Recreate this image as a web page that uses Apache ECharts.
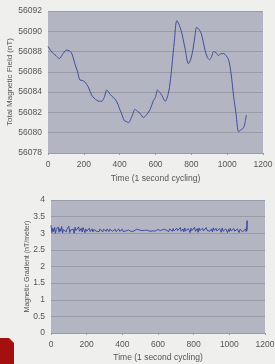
<!DOCTYPE html>
<html>
<head>
<meta charset="utf-8">
<script src="https://cdn.jsdelivr.net/npm/echarts@6/dist/echarts.min.js"></script>
<style>
  html, body { margin: 0; padding: 0; background: #efefed; }
  #chart { width: 275px; height: 364px; }
</style>
</head>
<body>
<div id="chart"></div>
<script>
// 上图: 总磁场 (时间, nT)
const fieldTime = [0, 15, 30, 45, 63, 80, 104, 130, 150, 165, 178, 192, 206, 225, 244, 258, 272, 286, 300, 314, 328, 342, 356, 375, 390, 403, 415, 425, 437, 449, 468, 486, 500, 514, 533, 551, 570, 589, 600, 611, 623, 635, 654, 672, 682, 691, 705, 719, 733, 747, 765, 784, 796, 808, 820, 830, 842, 855, 866, 877, 890, 902, 913, 924, 938, 952, 966, 980, 994, 1008, 1022, 1036, 1050, 1064, 1078, 1092, 1100, 1107]
const fieldValue = [56088.5, 56088.1, 56087.8, 56087.6, 56087.3, 56087.7, 56088.15, 56087.9, 56086.8, 56086.0, 56085.2, 56085.15, 56085.0, 56084.5, 56083.7, 56083.4, 56083.2, 56083.1, 56083.1, 56083.5, 56084.2, 56083.9, 56083.6, 56083.3, 56082.8, 56082.2, 56081.7, 56081.2, 56081.1, 56081.0, 56081.6, 56082.3, 56082.1, 56081.9, 56081.5, 56081.8, 56082.3, 56083.2, 56083.5, 56084.2, 56084.0, 56083.7, 56083.1, 56083.9, 56085.0, 56086.5, 56089.0, 56091.05, 56090.6, 56089.8, 56088.3, 56086.8, 56087.2, 56088.1, 56089.5, 56090.4, 56090.2, 56089.8, 56089.0, 56088.1, 56087.4, 56087.2, 56087.5, 56088.0, 56087.9, 56087.6, 56087.8, 56087.8, 56087.6, 56087.2, 56085.8, 56083.6, 56081.8, 56080.1, 56080.3, 56080.5, 56081.0, 56081.75]

// 下图: 磁梯度 (每 5 秒一个点, nT/meter)
const gradStep = 5
const gradValue = [
  3.24, 3.02, 3.15, 3.05, 3.18, 3.00, 3.12, 3.08, 3.19, 3.03, 3.14, 3.06, 3.20, 3.01, 3.11, 3.09, 3.17, 3.04, 3.13, 3.07,
  3.21, 3.02, 3.10, 3.16, 3.05, 3.12, 3.00, 3.18, 3.08, 3.14, 3.03, 3.19, 3.06, 3.11, 3.15, 3.04, 3.17, 3.09, 3.02, 3.13,
  3.06, 3.12, 3.08, 3.15, 3.05, 3.10, 3.13, 3.04, 3.11, 3.07, 3.14, 3.06, 3.09, 3.12, 3.05, 3.13, 3.08, 3.10, 3.04, 3.12,
  3.07, 3.11, 3.06, 3.13, 3.09, 3.05, 3.12, 3.08, 3.14, 3.06, 3.10, 3.07, 3.12, 3.05, 3.11, 3.09, 3.13, 3.06, 3.10, 3.08,
  3.12, 3.05, 3.09, 3.11, 3.07, 3.13, 3.06, 3.10, 3.08, 3.12, 3.05, 3.09, 3.11, 3.07, 3.10, 3.08, 3.12, 3.06, 3.09, 3.10,
  3.07, 3.09, 3.08, 3.11, 3.06, 3.09, 3.10, 3.07, 3.09, 3.08, 3.10, 3.06, 3.09, 3.11, 3.07, 3.08, 3.10, 3.07, 3.09, 3.08,
  3.11, 3.06, 3.09, 3.08, 3.10, 3.07, 3.12, 3.06, 3.09, 3.10, 3.08, 3.11, 3.05, 3.13, 3.08, 3.10, 3.06, 3.14, 3.07, 3.11,
  3.04, 3.15, 3.08, 3.12, 3.03, 3.17, 3.06, 3.10, 3.13, 3.04, 3.16, 3.07, 3.11, 3.05, 3.14, 3.09, 3.02, 3.15, 3.08, 3.12,
  3.05, 3.18, 3.06, 3.11, 3.14, 3.03, 3.16, 3.08, 3.10, 3.04, 3.15, 3.07, 3.12, 3.05, 3.17, 3.09, 3.03, 3.14, 3.06, 3.11,
  3.13, 3.04, 3.16, 3.08, 3.02, 3.15, 3.07, 3.12, 3.05, 3.14, 3.09, 3.03, 3.16, 3.06, 3.11, 3.04, 3.13, 3.08, 3.02, 3.12,
  3.05, 3.15, 3.07, 3.10, 3.03, 3.14, 3.06, 3.11, 3.04, 3.13, 3.08, 3.02, 3.12, 3.06, 3.15, 3.04, 3.10, 3.07, 3.13, 3.05,
  3.38, 3.08
]

const xTicks = [0, 200, 400, 600, 800, 1000, 1200]

const fieldData = fieldTime.map((t, i) => [t, fieldValue[i]])
const gradData = gradValue.map((v, i) => [Math.min(i * gradStep, 1100), v])

const chart = echarts.init(document.getElementById('chart'))

const labelStyle = { color: '#555', fontSize: 8.5, fontFamily: 'Liberation Sans', formatter: v => String(v) }
const plotBg = '#b4b5c2'
const gridLine = { show: true, lineStyle: { color: '#9a9ba6', width: 1 } }

function xAxisOf(idx) {
  return {
    type: 'value', gridIndex: idx, min: xTicks[0], max: xTicks[xTicks.length - 1], interval: 200,
    name: 'Time (1 second cycling)', nameLocation: 'middle', nameGap: idx === 0 ? 21 : 20,
    nameMoveOverlap: false,
    nameTextStyle: { color: '#555', fontSize: 8.5, fontFamily: 'Liberation Sans' },
    axisLine: { show: false },
    axisTick: { show: true, length: 2, lineStyle: { color: '#999' } },
    axisLabel: Object.assign({ margin: 7 }, labelStyle),
    splitLine: { show: false }
  }
}

chart.setOption({
  backgroundColor: '#efefed',
  animation: false,
  grid: [
    { left: 48, top: 11, width: 215, height: 142, show: true, backgroundColor: plotBg, borderWidth: 0, outerBoundsMode: 'none', containLabel: false },
    { left: 51, top: 200, width: 214, height: 133, show: true, backgroundColor: plotBg, borderWidth: 0, outerBoundsMode: 'none', containLabel: false }
  ],
  xAxis: [xAxisOf(0), xAxisOf(1)],
  yAxis: [
    {
      type: 'value', gridIndex: 0, min: 56078, max: 56092, interval: 2,
      name: 'Total Magnetic Field (nT)', nameLocation: 'middle', nameGap: 34,
      nameMoveOverlap: false,
      nameTextStyle: { color: '#555', fontSize: 8, fontFamily: 'Liberation Sans' },
      axisLine: { show: false }, axisTick: { show: false },
      axisLabel: Object.assign({ margin: 6 }, labelStyle),
      splitLine: gridLine
    },
    {
      type: 'value', gridIndex: 1, min: 0, max: 4, interval: 0.5,
      name: 'Magnetic Gradient (nT/meter)', nameLocation: 'middle', nameGap: 20,
      nameMoveOverlap: false,
      nameTextStyle: { color: '#555', fontSize: 7, fontFamily: 'Liberation Sans' },
      axisLine: { show: false }, axisTick: { show: false },
      axisLabel: Object.assign({ margin: 6 }, labelStyle),
      splitLine: gridLine
    }
  ],
  series: [
    {
      type: 'line', xAxisIndex: 0, yAxisIndex: 0, data: fieldData,
      smooth: 0.3, showSymbol: false,
      lineStyle: { color: '#3f4f9c', width: 1 }
    },
    {
      type: 'line', xAxisIndex: 1, yAxisIndex: 1, data: gradData,
      showSymbol: false,
      lineStyle: { color: '#2f429c', width: 0.9 }
    }
  ],
  graphic: [
    {
      type: 'polygon', silent: true,
      shape: { points: [[0, 338], [9, 338], [14, 343], [14, 364], [0, 364]] },
      style: { fill: '#a3100e' }
    }
  ]
})
</script>
</body>
</html>
